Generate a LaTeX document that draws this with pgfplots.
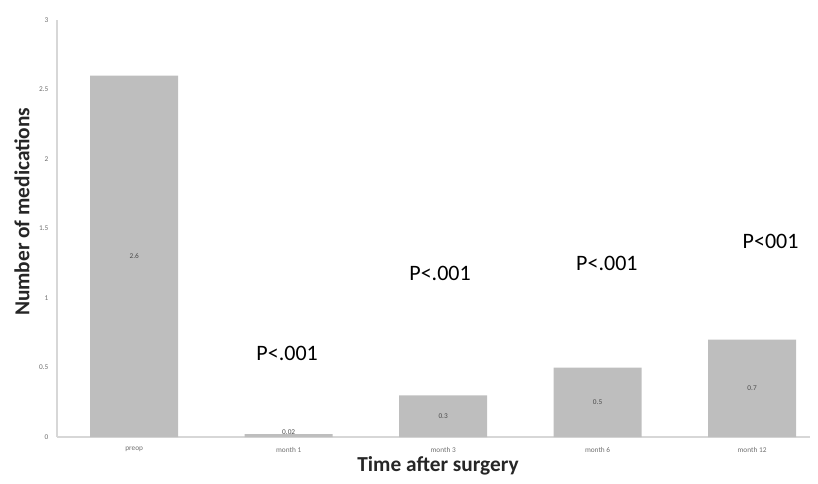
\documentclass[border=0pt]{standalone}
\usepackage{fontspec}
\setmainfont{Carlito}
\usepackage{pgfplots}
\pgfplotsset{compat=1.18}
\definecolor{barc}{RGB}{190,190,190}
\definecolor{axc}{RGB}{215,215,215}
\definecolor{tickc}{RGB}{110,110,110}
\begin{document}
\begin{tikzpicture}
\useasboundingbox (0,0) rectangle (613.5pt,362.25pt);
\begin{axis}[
  at={(42.75pt,34.5pt)}, anchor=south west,
  scale only axis, width=564.75pt, height=312.75pt,
  xmin=-0.5, xmax=4.375, ymin=0, ymax=3,
  axis x line*=bottom, axis y line*=left,
  axis line style={axc, line width=0.8pt, -},
  xtick={0,1,2,3,4},
  xticklabels={preop, month 1, month 3, month 6, month 12},
  ytick={0,0.5,1,1.5,2,2.5,3},
  yticklabels={0,0.5,1,1.5,2,2.5,3},
  major tick length=0pt,
  /pgf/number format/assume math mode=true,
  tick label style={font=\fontsize{5.5}{6}\selectfont, text=tickc},
  xticklabel style={yshift=-4pt},
  yticklabel style={xshift=-3pt},
  xlabel={Time after surgery},
  ylabel={Number of medications},
  label style={font=\fontsize{16}{18}\selectfont\bfseries, text=black!85},
  xlabel style={at={(axis description cs:0.506,-0.0695)}, anchor=center},
  ylabel style={at={(axis description cs:-0.0465,0.54)}, anchor=center},
  clip=false,
]
\addplot[ybar, bar width=66pt, fill=barc, draw=none] coordinates {
  (0,2.6) (1,0.02) (2,0.3) (3,0.5) (4,0.7)
};
\node[font=\fontsize{5.5}{6}\selectfont, text=black!70] at (axis cs:0,1.3) {2.6};
\node[font=\fontsize{5.5}{6}\selectfont, text=black!70] at (axis cs:1,0.035) {0.02};
\node[font=\fontsize{5.5}{6}\selectfont, text=black!70] at (axis cs:2,0.15) {0.3};
\node[font=\fontsize{5.5}{6}\selectfont, text=black!70] at (axis cs:3,0.25) {0.5};
\node[font=\fontsize{5.5}{6}\selectfont, text=black!70] at (axis cs:4,0.35) {0.7};
\node[font=\fontsize{16.5}{18}\selectfont] at (axis cs:0.99,0.604) {P<.001};
\node[font=\fontsize{16.5}{18}\selectfont] at (axis cs:1.98,1.18) {P<.001};
\node[font=\fontsize{16.5}{18}\selectfont] at (axis cs:3.06,1.25) {P<.001};
\node[font=\fontsize{16.5}{18}\selectfont] at (axis cs:4.12,1.41) {P<001};
\end{axis}
\end{tikzpicture}
\end{document}
